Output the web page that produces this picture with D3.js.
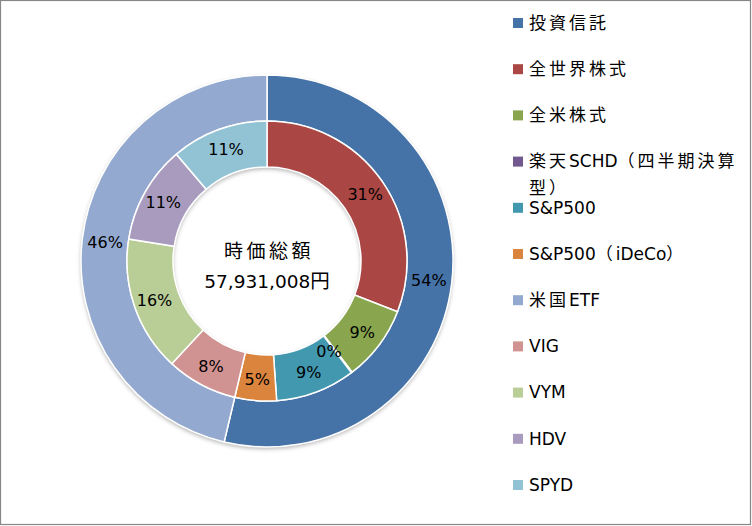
<!DOCTYPE html>
<html><head><meta charset="utf-8">
<script src="https://cdn.jsdelivr.net/npm/d3@7"></script>
<style>
html,body{margin:0;padding:0;background:#fff;}
svg{display:block;font-family:"DejaVu Sans","Noto Sans CJK JP",sans-serif;}
.cjk{font-family:"Noto Sans CJK JP",sans-serif;}
</style></head>
<body>
<svg id="chart" width="752" height="526"></svg>
<script>
// Outer ring (asset class)
const outerCategories = ["投資信託", "米国ETF"];
const outerValues = [53.7, 46.3];
const outerColors = ["#4572A7", "#93A9CF"];

// Inner ring (holdings)
const innerCategories = ["全世界株式", "全米株式", "楽天SCHD（四半期決算型）", "S&P500", "S&P500（iDeCo）", "VIG", "VYM", "HDV", "SPYD"];
const innerValues = [30.9, 8.7, 0.1, 9.2, 4.8, 8.2, 15.6, 11.3, 11.2];
const innerColors = ["#AA4643", "#89A54E", "#71588F", "#4198AF", "#DB843D", "#D19392", "#B9CD96", "#A99BBD", "#92C3D4"];

// Legend order
const legendItems = [
  {lines:["投資信託"], color:"#4572A7"},
  {lines:["全世界株式"], color:"#AA4643"},
  {lines:["全米株式"], color:"#89A54E"},
  {lines:["楽天SCHD（四半期決算", "型）"], color:"#71588F"},
  {lines:["S&P500"], color:"#4198AF"},
  {lines:["S&P500（iDeCo）"], color:"#DB843D"},
  {lines:["米国ETF"], color:"#93A9CF"},
  {lines:["VIG"], color:"#D19392"},
  {lines:["VYM"], color:"#B9CD96"},
  {lines:["HDV"], color:"#A99BBD"},
  {lines:["SPYD"], color:"#92C3D4"}
];
const centerTitle = "時価総額";
const centerValue = "57,931,008円";

function rich(textSel, str, cjkSize, latSize, ls){
  const runs = str.match(/[\u3000-\u9fff\uff00-\uffef]+|[^\u3000-\u9fff\uff00-\uffef]+/g) || [];
  runs.forEach(r=>{
    const isCjk = /[\u3000-\u9fff\uff00-\uffef]/.test(r);
    const t = textSel.append("tspan").text(r);
    if(isCjk){ t.attr("class","cjk").attr("font-size",cjkSize).attr("letter-spacing",ls); }
    else { t.attr("font-size",latSize); }
  });
}

const svg = d3.select("#chart");
svg.append("rect").attr("x",0.5).attr("y",0.5).attr("width",750).attr("height",524)
  .attr("fill","#fff").attr("stroke","#868686").attr("stroke-width",1.2);

const defs = svg.append("defs");
const f = defs.append("filter").attr("id","sh").attr("x","-20%").attr("y","-20%").attr("width","140%").attr("height","140%");
f.append("feDropShadow").attr("dx",0).attr("dy",2).attr("stdDeviation",2).attr("flood-color","#000").attr("flood-opacity",0.3);

const cx = 267, cy = 261;
const R0 = 94, R1 = 140, R2 = 186;
const g = svg.append("g").attr("transform",`translate(${cx},${cy})`);

const pie = d3.pie().sort(null).value(d=>d);
const arcOuter = d3.arc().innerRadius(R1).outerRadius(R2);
const arcInner = d3.arc().innerRadius(R0).outerRadius(R1);
const labOuter = d3.arc().innerRadius((R1+R2)/2).outerRadius((R1+R2)/2);
const labInner = d3.arc().innerRadius((R0+R1)/2+2).outerRadius((R0+R1)/2+2);

g.append("path").attr("d", d3.arc().innerRadius(R0).outerRadius(R2).startAngle(0).endAngle(2*Math.PI)())
  .attr("fill","#fff").attr("filter","url(#sh)");

const oTot = d3.sum(outerValues), iTot = d3.sum(innerValues);
const oArcs = pie(outerValues), iArcs = pie(innerValues);

g.selectAll(".o").data(oArcs).join("path").attr("class","o")
  .attr("d",arcOuter).attr("fill",(d,i)=>outerColors[i]).attr("stroke","#fff").attr("stroke-width",1.5);
g.selectAll(".i").data(iArcs).join("path").attr("class","i")
  .attr("d",arcInner).attr("fill",(d,i)=>innerColors[i]).attr("stroke","#fff").attr("stroke-width",1.5);

const fs = 16;
g.selectAll(".ol").data(oArcs).join("text").attr("class","ol")
  .attr("transform",d=>`translate(${labOuter.centroid(d)})`)
  .attr("text-anchor","middle").attr("dy","0.36em").attr("font-size",fs).attr("fill","#000")
  .text((d,i)=>Math.round(outerValues[i]/oTot*100)+"%");
g.selectAll(".il").data(iArcs).join("text").attr("class","il")
  .attr("transform",(d,i)=>{const c=labInner.centroid(d); if(innerValues[i]/iTot<0.01){c[0]-=10;c[1]-=4;} return `translate(${c})`;})
  .attr("text-anchor","middle").attr("dy","0.36em").attr("font-size",fs).attr("fill","#000")
  .text((d,i)=>Math.round(innerValues[i]/iTot*100)+"%");

const t1 = g.append("text").attr("x",2).attr("y",-9).attr("dy","0.36em").attr("text-anchor","middle").attr("fill","#000");
rich(t1, centerTitle, 19, 18.5, 3.5);
const t2 = g.append("text").attr("x",0).attr("y",21).attr("dy","0.36em").attr("text-anchor","middle").attr("fill","#000");
rich(t2, centerValue, 19.5, 18.5, 0);

// legend
const ys = d3.scaleLinear().domain([0,1]).range([23,69.2]);
const lg = svg.append("g");
legendItems.forEach((it,k)=>{
  const y = ys(k);
  lg.append("rect").attr("x",513).attr("y",y-5).attr("width",10).attr("height",10).attr("fill",it.color);
  it.lines.forEach((ln,j)=>{
    const t = lg.append("text").attr("x",529).attr("y",y+j*27).attr("dy","0.36em").attr("fill","#000");
    rich(t, ln, 17, 17, 3);
  });
});
</script>
</body></html>
